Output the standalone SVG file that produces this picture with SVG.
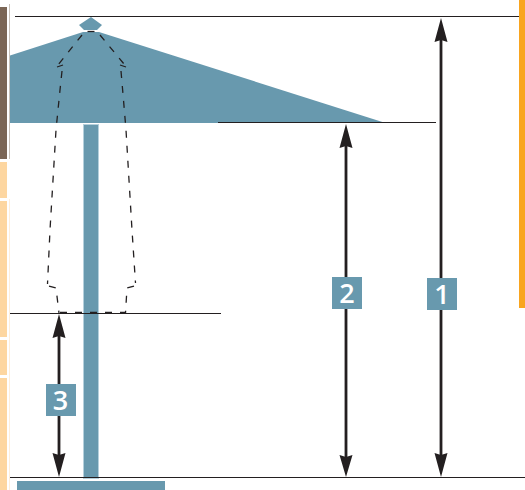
<svg xmlns="http://www.w3.org/2000/svg" width="525" height="490" viewBox="0 0 525 490">
<style>
.blue{fill:#6899ae}
.rule{stroke:#231f20;stroke-width:1;fill:none}
.dim{stroke:#231f20;stroke-width:2.8;fill:none}
.head{fill:#231f20}
.dash{stroke:#231f20;stroke-width:1.3;fill:none;stroke-dasharray:7 8}
.peach{fill:#fdd6a0}
.num{fill:#fff;font-family:"Open Sans","DejaVu Sans",sans-serif;font-size:27px;font-weight:600;text-anchor:middle}
</style>
<rect width="525" height="490" fill="#fff"/>
<g id="side-strips">
<rect x="0" y="7" width="7" height="152" fill="#7b6656"/>
<rect x="9" y="4" width="1" height="155" fill="#c9c2bb"/>
<rect class="peach" x="0" y="162" width="7" height="36"/>
<rect class="peach" x="0" y="201" width="7" height="136"/>
<rect class="peach" x="0" y="340" width="7" height="35"/>
<rect class="peach" x="0" y="378" width="7" height="112"/>
<rect x="9" y="199" width="1" height="291" fill="#feeedb"/>
<rect x="519" y="0" width="6" height="308" fill="#f9a51f"/>
</g>
<g id="umbrella">
<path class="blue" d="M10 55.500L83 32H99L384 122.500V123H10Z"/>
<path class="blue" d="M91 17L102 25L97 30H84L79 25Z"/>
<rect class="blue" x="83.500" y="124.500" width="15" height="354" stroke="#b5d0dc" stroke-width="1"/>
<rect class="blue" x="17" y="481" width="148" height="9"/>
<path class="dash" d="M87.500 31.500H95"/>
<path class="dash" d="M82 35L58 65"/>
<path class="dash" d="M100 35L124 64"/>
<path class="dash" d="M57 67L63 65"/>
<path class="dash" d="M120 65L126 67"/>
<path class="dash" d="M62 71L60 90L56 130L50 230L47.500 284"/>
<path class="dash" d="M121 71L123.500 100L126 130L132 230L135.500 283"/>
<path class="dash" d="M49 286L56 288L59 313"/>
<path class="dash" d="M134 286L127 288L125.500 313"/>
<path class="dash" d="M60 312.500H125" stroke-dasharray="5 6 7 7 7 7"/>
</g>
<g id="connectors">
<path class="rule" d="M15 16.500H519"/>
<path class="rule" d="M218 122.500H436"/>
<path class="rule" d="M10 313.500H221"/>
<path class="rule" d="M10 477.500H525"/>
<path class="dim" d="M441 36V460"/>
<path class="dim" d="M346 142V460"/>
<path class="dim" d="M59 332V460"/>
<path class="head" d="M441 18L447.500 42L441 40L434.500 42Z"/>
<path class="head" d="M441 477L447.500 453L441 455L434.500 453Z"/>
<path class="head" d="M346 124L352.500 148L346 146L339.500 148Z"/>
<path class="head" d="M346 477L352.500 455L346 457L339.500 455Z"/>
<path class="head" d="M59 314L65.500 338L59 336L52.500 338Z"/>
<path class="head" d="M59 477L65.500 453L59 455L52.500 453Z"/>
</g>
<g id="label-1">
<rect class="blue" x="427" y="278" width="30" height="32"/>
<text class="num" x="442" y="303.500">1</text>
</g>
<g id="label-2">
<rect class="blue" x="332" y="277" width="30" height="32"/>
<text class="num" x="347" y="302.500">2</text>
</g>
<g id="label-3">
<rect class="blue" x="46" y="384" width="30" height="32"/>
<text class="num" x="60.500" y="409.500">3</text>
</g>
</svg>
